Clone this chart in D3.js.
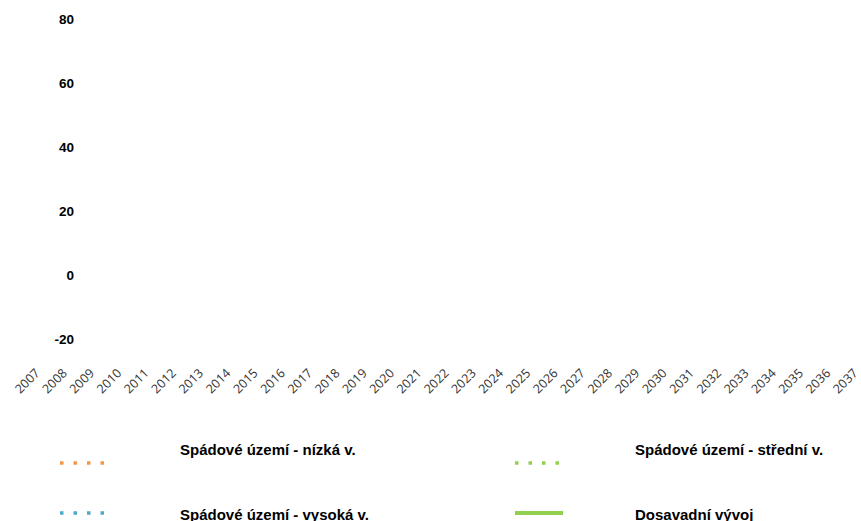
<!DOCTYPE html>
<html>
<head>
<meta charset="utf-8">
<script src="https://cdn.jsdelivr.net/npm/d3@7"></script>
<style>
  html, body { margin: 0; padding: 0; background: #ffffff; }
  svg { display: block; }
</style>
</head>
<body>
<svg id="chart" width="861" height="521"></svg>
<script>
// ---- data ----
const years = d3.range(2007, 2038).map(String);
const yTicks = [-20, 0, 20, 40, 60, 80];
const yTickLabels = ["-20", "0", "20", "40", "60", "80"];
// series (no values plotted in the reference)
const seriesLow = [];
const seriesMid = [];
const seriesHigh = [];
const seriesHistory = [];
const seriesNames = ["Spádové území - nízká v.", "Spádové území - střední v.", "Spádové území - vysoká v.", "Dosavadní vývoj"];
const seriesColors = ["#f79646", "#92d050", "#4bacc6", "#92d050"];

const svg = d3.select("#chart");
const x = d3.scalePoint().domain(years).range([40, 858]);
const y = d3.scaleLinear().domain([-20, 80]).range([339, 19]);

// y axis labels
const yAxis = d3.axisLeft(y).tickValues(yTicks)
  .tickFormat((d, i) => yTickLabels[i]).tickSize(0).tickPadding(0);
const gy = svg.append("g").attr("transform", "translate(74,0)").call(yAxis);
gy.select(".domain").remove();
gy.selectAll("text")
  .attr("font-family", "Liberation Sans, Arial, sans-serif")
  .attr("font-weight", "bold")
  .attr("font-size", 13.5)
  .attr("fill", "#000");

// x axis labels
const xAxis = d3.axisBottom(x).tickSize(0).tickPadding(0);
const gx = svg.append("g").attr("transform", "translate(0,374)").call(xAxis);
gx.select(".domain").remove();
gx.selectAll("text")
  .attr("font-family", "Open Sans, DejaVu Sans, sans-serif")
  .attr("font-size", 12.5)
  .attr("fill", "#333")
  .attr("dy", 0)
  .attr("y", 0)
  .attr("text-anchor", "end")
  .attr("transform", "rotate(-45)");

// lines (empty in reference)
const line = d3.line().defined(d => d != null).x((d, i) => x(years[i])).y(d => y(d));
const allSeries = [seriesLow, seriesMid, seriesHigh, seriesHistory];
allSeries.forEach((s, i) => {
  if (s.length) {
    svg.append("path").attr("d", line(s)).attr("fill", "none")
      .attr("stroke", seriesColors[i]).attr("stroke-width", i === 3 ? 4 : 3.5)
      .attr("stroke-dasharray", i === 3 ? null : "3.5,10");
  }
});

// legend
const legendPos = [
  {sx: 60, tx: 180, sy: 463, ty: 449},
  {sx: 515, tx: 635, sy: 463, ty: 449},
  {sx: 60, tx: 180, sy: 513, ty: 514},
  {sx: 515, tx: 635, sy: 513, ty: 514}
];
const lg = svg.append("g");
seriesNames.forEach((name, i) => {
  const p = legendPos[i];
  const solid = i === 3;
  lg.append("line")
    .attr("x1", p.sx).attr("x2", p.sx + (solid ? 48 : 44))
    .attr("y1", p.sy).attr("y2", p.sy)
    .attr("stroke", seriesColors[i])
    .attr("stroke-width", solid ? 4 : 3.5)
    .attr("stroke-dasharray", solid ? null : "3.5,10");
  lg.append("text")
    .attr("x", p.tx).attr("y", p.ty)
    .attr("dominant-baseline", "central")
    .attr("font-family", "Liberation Sans, Arial, sans-serif")
    .attr("font-weight", "bold")
    .attr("font-size", 15)
    .attr("fill", "#000")
    .text(name);
});
</script>
</body>
</html>
